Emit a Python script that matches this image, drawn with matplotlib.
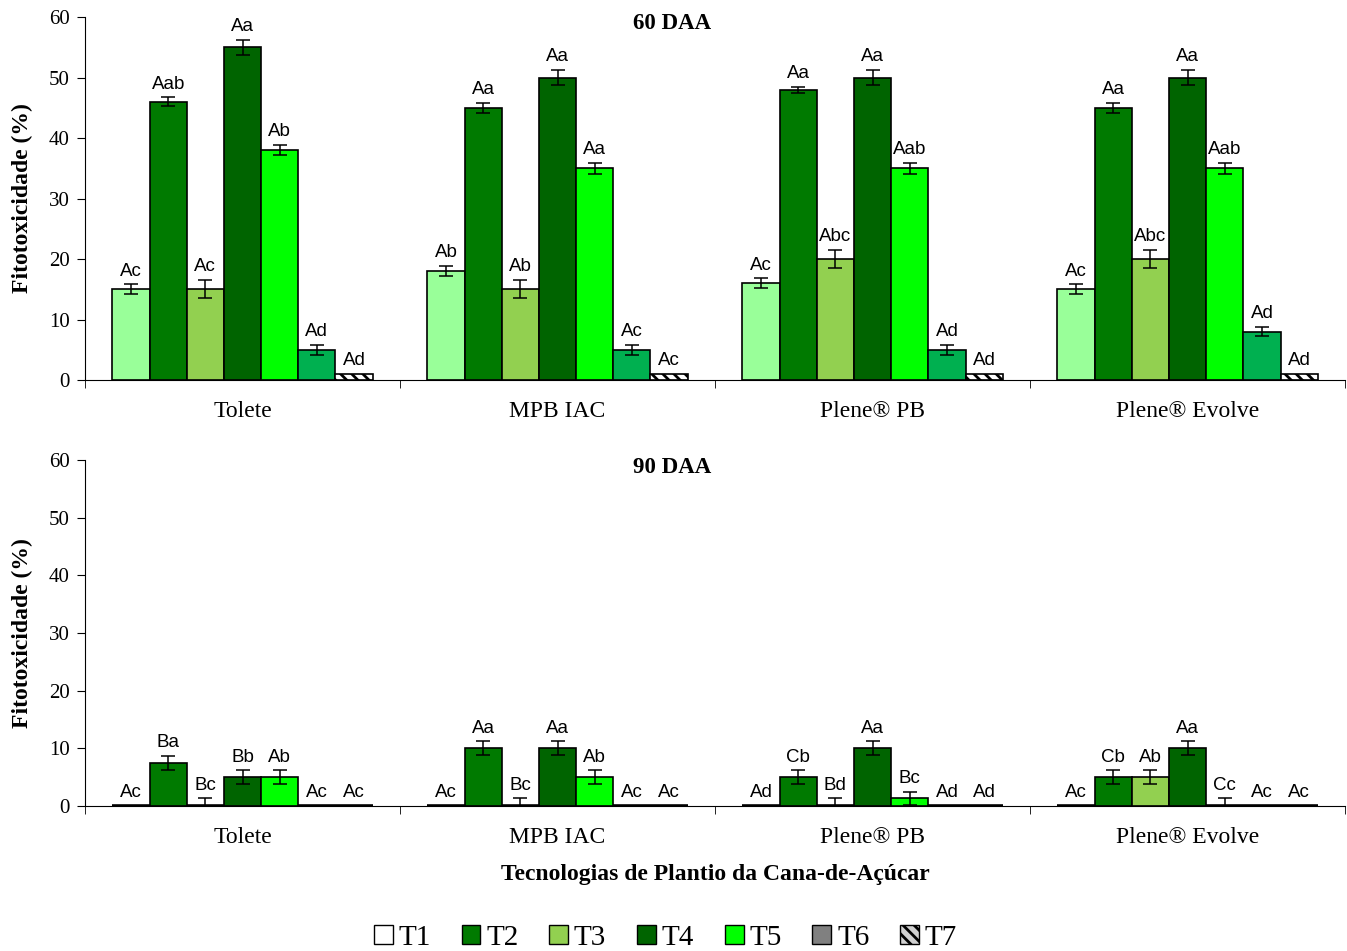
import matplotlib.pyplot as plt
import numpy as np
from matplotlib.patches import Patch

# Treatments and planting technologies
groups = ['Tolete', 'MPB IAC', 'Plene® PB', 'Plene® Evolve']
treat = ['T1', 'T2', 'T3', 'T4', 'T5', 'T6', 'T7']
bar_colors = ['#99ff99', '#007a00', '#92d050', '#006400', '#00ff00', '#00b050', 'white']
leg_colors = ['white', '#007a00', '#92d050', '#006400', '#00ff00', '#808080', '#d0d0d0']

# 60 DAA: one row per treatment, one column per technology
v60 = [[15, 18, 16, 15],
       [46, 45, 48, 45],
       [15, 15, 20, 20],
       [55, 50, 50, 50],
       [38, 35, 35, 35],
       [5, 5, 5, 8],
       [1, 1, 1, 1]]
e60 = [[0.8, 0.8, 0.8, 0.8],
       [0.7, 0.8, 0.5, 0.8],
       [1.5, 1.5, 1.5, 1.5],
       [1.2, 1.2, 1.2, 1.2],
       [0.8, 0.9, 0.9, 0.9],
       [0.8, 0.8, 0.8, 0.8],
       [0, 0, 0, 0]]
l60 = [['Ac', 'Ab', 'Ac', 'Ac'],
       ['Aab', 'Aa', 'Aa', 'Aa'],
       ['Ac', 'Ab', 'Abc', 'Abc'],
       ['Aa', 'Aa', 'Aa', 'Aa'],
       ['Ab', 'Aa', 'Aab', 'Aab'],
       ['Ad', 'Ac', 'Ad', 'Ad'],
       ['Ad', 'Ac', 'Ad', 'Ad']]

# 90 DAA
v90 = [[0, 0, 0, 0],
       [7.5, 10, 5, 5],
       [0, 0, 0, 5],
       [5, 10, 10, 10],
       [5, 5, 1.3, 0],
       [0, 0, 0, 0],
       [0, 0, 0, 0]]
e90 = [[0, 0, 0, 0],
       [1.2, 1.2, 1.2, 1.2],
       [1.3, 1.3, 1.3, 1.2],
       [1.2, 1.2, 1.2, 1.2],
       [1.2, 1.2, 1.2, 1.3],
       [0, 0, 0, 0],
       [0, 0, 0, 0]]
l90 = [['Ac', 'Ac', 'Ad', 'Ac'],
       ['Ba', 'Aa', 'Cb', 'Cb'],
       ['Bc', 'Bc', 'Bd', 'Ab'],
       ['Bb', 'Aa', 'Aa', 'Aa'],
       ['Ab', 'Ab', 'Bc', 'Cc'],
       ['Ac', 'Ac', 'Ad', 'Ac'],
       ['Ac', 'Ac', 'Ad', 'Ac']]

serif = 'Liberation Serif'
sans = 'Liberation Sans'
plt.rcParams['hatch.linewidth'] = 2.0

fig = plt.figure(figsize=(13.47, 9.51), dpi=100)
ax1 = fig.add_axes([0.0631, 0.6004, 0.9355, 0.3817])
ax2 = fig.add_axes([0.0631, 0.1525, 0.9355, 0.3638])

w = 0.118
x = np.arange(len(groups))


def draw(ax, vals, errs, labs):
    for i in range(len(treat)):
        xi = x + (i - 3) * w
        hatch = '\\\\\\' if i == 6 else None
        lw = [2.6 if v == 0 else 1.2 for v in vals[i]]
        ax.bar(xi, vals[i], w, color=bar_colors[i], edgecolor='black', linewidth=lw,
               hatch=hatch, zorder=2)
        for j in range(len(groups)):
            if errs[i][j] > 0:
                ax.errorbar(xi[j], vals[i][j], yerr=errs[i][j], fmt='none', ecolor='black',
                            elinewidth=1.1, capsize=5, capthick=1.1, zorder=3)
            ax.text(xi[j], vals[i][j] + errs[i][j] + 0.8, labs[i][j], ha='center', va='bottom',
                    fontsize=13.5, family=sans, zorder=4)
    ax.set_xlim(-0.5, 3.5)
    ax.set_ylim(0, 60)
    ax.set_yticks(range(0, 61, 10))
    ax.spines['top'].set_visible(False)
    ax.spines['right'].set_visible(False)
    ax.set_xticks(x)
    ax.set_xticklabels(groups, family=serif, fontsize=17)
    ax.set_xticks(np.arange(-0.5, 4, 1), minor=True)
    ax.tick_params(axis='x', which='major', length=0, pad=15)
    ax.tick_params(axis='x', which='minor', length=6, direction='out')
    ax.tick_params(axis='y', length=6, direction='out', labelsize=15, pad=5)
    for t in ax.get_yticklabels():
        t.set_family(serif)
    ax.set_ylabel('Fitotoxicidade (%)', family=serif, fontsize=17, fontweight='bold')
    ax.yaxis.set_label_coords(-0.041, 0.5)


draw(ax1, v60, e60, l60)
draw(ax2, v90, e90, l90)

fig.text(0.499, 0.975, '60 DAA', ha='center', va='center', family=serif, fontsize=16.5, fontweight='bold')
fig.text(0.499, 0.508, '90 DAA', ha='center', va='center', family=serif, fontsize=16.5, fontweight='bold')
ax2.set_xlabel('Tecnologias de Plantio da Cana-de-Açúcar', family=serif, fontsize=17,
               fontweight='bold', labelpad=12)

handles = []
for i in range(len(treat)):
    handles.append(Patch(facecolor=leg_colors[i], edgecolor='black', linewidth=1.0,
                         hatch='\\\\\\' if i == 6 else None))
fig.legend(handles, treat, loc='center', bbox_to_anchor=(0.494, 0.014), ncol=7, frameon=False,
           prop={'family': serif, 'size': 21}, handlelength=0.65, handleheight=0.65,
           handletextpad=0.2, columnspacing=1.05)

plt.savefig('out.png', dpi=100)
